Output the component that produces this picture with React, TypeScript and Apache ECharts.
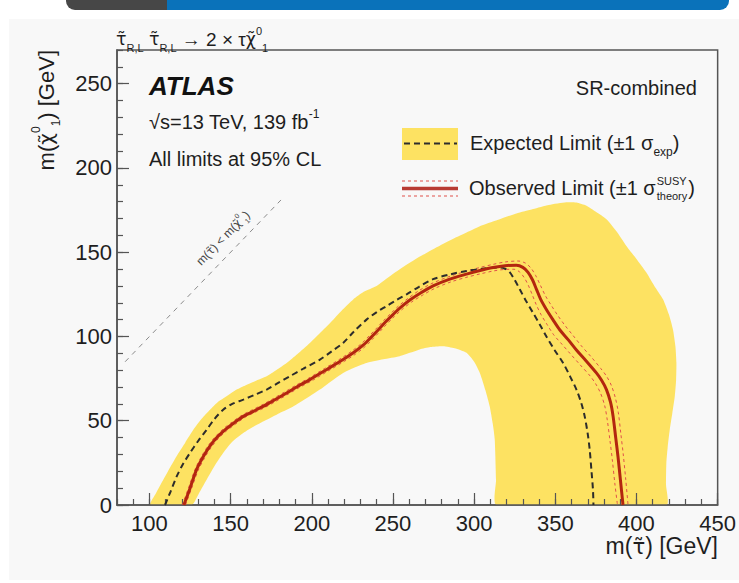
import React, { useEffect, useRef } from "react";
import * as echarts from "echarts";

// ---- data (GeV) ----
const xTickValues = [100, 150, 200, 250, 300, 350, 400, 450];
const yTickValues = [0, 50, 100, 150, 200, 250];

// yellow ±1σ expected band: outer boundary (left-bottom → over the top → right-bottom)
const bandOuter: number[][] = [
  [100.5, 0], [104, 7], [108.5, 15], [112.5, 22], [116.7, 29], [122, 37], [127, 44.6], [132, 51],
  [137.3, 56.5], [142, 61], [147.5, 64.5], [152, 67.5], [157.8, 70.4], [165, 73.5], [172.2, 76.4],
  [178, 80], [184.5, 84.3], [191, 89.5], [198.8, 96.2], [206, 103], [213.2, 110], [219, 116],
  [225.5, 122], [232, 126.5], [239.9, 130], [247, 135], [254.2, 139.9], [264, 146], [274.7, 151.8],
  [285, 157], [295.3, 161.7], [305, 166], [315.8, 169.6], [326, 173], [336.3, 175.6], [346, 178],
  [356.8, 179.6], [363, 179.5], [369.2, 177.6], [375, 174], [381.5, 169.6], [388, 162], [393.8, 153.7],
  [400, 146], [406.1, 137.9], [411, 130], [416.4, 122], [420, 113], [422.5, 104], [424, 94],
  [424.6, 84.3], [424.4, 74], [423.6, 64.5], [422, 54], [420.5, 44.6], [419.2, 34], [418.4, 24.8],
  [418.2, 12], [418.4, 0],
];
// inner boundary (right-bottom → under the arch → left-bottom)
const bandInner: number[][] = [
  [313.8, 0], [313.5, 15], [312.7, 38.7], [311.5, 48], [309.6, 58.5], [307, 68], [303.5, 78.4],
  [300, 85], [295.3, 90.3], [288, 93], [280.9, 94.2], [273, 93.7], [266.5, 92.3], [260.4, 90.3],
  [254.2, 88.3], [244, 86.5], [233.7, 84.3], [226, 81.5], [219.3, 78.4], [212, 73.5], [205, 68.5],
  [197, 63.5], [188.5, 58.5], [180, 54.5], [172.2, 50.6], [165, 47], [157.8, 42.7], [151, 37.5],
  [145.4, 30.8], [140, 23], [135.2, 15], [130.5, 7], [126, 0],
];

const expectedLimit: number[][] = [
  [109.6, 0], [113, 8], [116.7, 16.8], [120.5, 24], [124.9, 30.8], [130, 38], [135.2, 44.6], [140, 51],
  [145.4, 56.5], [151, 60], [157.8, 62.5], [165, 65.5], [172.2, 68.5], [179, 72.3], [186.5, 76.4],
  [195, 81], [205, 86.3], [212, 91], [219.3, 96.2], [226, 103], [233.7, 110], [240, 114.5], [246, 118],
  [252, 121.5], [258.4, 125], [266, 129.5], [274.7, 134], [285, 136.8], [295.3, 138.9], [305, 140.2],
  [315.8, 140.9], [319, 140.2], [322, 138], [325, 133.5], [328.1, 128], [332, 121], [336.3, 114],
  [340.5, 107], [344.5, 100], [349.5, 92], [354.8, 84.3], [359, 76.5], [363, 68.5], [366, 60.5],
  [368.1, 52.6], [370, 42], [371.2, 32.7], [372.3, 20], [373.2, 9], [373.5, 0],
];

const observedLimit: number[][] = [
  [121.2, 0], [125, 10], [129, 21], [133, 28.5], [137, 34.7], [141.5, 40], [146.5, 44.6], [152, 48.7],
  [157.8, 52.6], [164, 55.6], [170, 58.5], [177, 62.3], [184.5, 66.5], [191.5, 70.5], [198.8, 74.4],
  [209, 80.3], [219.3, 86.3], [226, 90.6], [231.6, 94.8], [236.5, 99.5], [241, 104], [245.5, 108.7],
  [250, 113], [254.2, 116.8], [260.4, 121.6], [267, 125.8], [274.7, 130], [285, 134], [295.3, 137],
  [303, 139], [311.7, 140.9], [319, 142], [326, 142.3], [330, 141], [333.2, 138], [336, 133.5],
  [338.4, 128], [341, 122], [344.5, 116], [348.5, 110], [352.7, 104], [358, 98], [363, 92], [369, 85.5],
  [375.3, 78.4], [378.5, 74], [381.5, 68.5], [384, 61], [385.6, 52.6], [387.2, 40], [388.6, 28.8],
  [390.2, 14], [391.7, 0],
];

const observedUp: number[][] = [
  [120.2, 0], [124, 10], [128, 21], [132, 28.7], [136, 35], [140.5, 40.5], [145.5, 45.2], [151, 49.3],
  [157, 53.3], [163, 56.3], [169, 59.2], [176, 63], [183.5, 67.2], [190.5, 71.2], [198, 75.2],
  [208, 81.1], [218.3, 87.2], [225, 91.6], [230.6, 95.8], [235.5, 100.5], [240, 105], [244.5, 109.7],
  [249, 114], [253.2, 117.9], [259.5, 122.8], [266, 127.2], [274, 131.5], [284.5, 135.5], [295, 138.7],
  [303, 140.8], [311.7, 142.8], [319, 144.2], [327, 144.8], [331.5, 143.6], [335, 140.6], [338, 136],
  [341, 130], [344, 124], [347.5, 118.5], [351.5, 112.5], [356, 106.5], [361, 100.5], [366, 94.5],
  [372, 88], [378, 81], [381.5, 76.5], [384.5, 71], [387, 63.5], [388.8, 55], [390.4, 42],
  [391.8, 30.5], [393.4, 15], [394.8, 0],
];

const observedDown: number[][] = [
  [122.2, 0], [126, 10], [130, 20.5], [134, 28], [138, 34.2], [142.5, 39.5], [147.5, 44], [153, 48],
  [158.8, 52], [165, 55], [171, 57.8], [178, 61.6], [185.5, 65.8], [192.5, 69.8], [199.8, 73.6],
  [210, 79.5], [220.3, 85.4], [227, 89.6], [232.6, 93.8], [237.5, 98.5], [242, 103], [246.5, 107.7],
  [251, 112], [255.2, 115.7], [261.4, 120.4], [268, 124.4], [275.7, 128.5], [286, 132.5], [296, 135.3],
  [304, 137.2], [312, 138.9], [319, 139.8], [324.5, 139.9], [328, 138.3], [330.8, 135], [333.3, 130.5],
  [335.7, 125], [338.2, 119], [341.2, 113], [345, 107], [349, 101], [354, 95.5], [359, 90], [365, 83.5],
  [371.5, 76.5], [374.8, 72], [377.8, 66.5], [380.4, 59], [382, 50.5], [383.7, 38], [385.1, 27],
  [386.7, 12.5], [388.3, 0],
];

const kinematicLine: number[][] = [[85, 85], [181, 181]];

const FONT = "'Liberation Sans', Arial, Helvetica, sans-serif";
const DJ = "'DejaVu Sans', sans-serif";
const YELLOW = "#fde262";
const OBS_RED = "#b3260f";
const THEORY_RED = "#e0504a";
const AXIS_GRAY = "#555";
const TEXT = "#1e1e1e";

function measure(text: string, size: number): number {
  const c = document.createElement("canvas").getContext("2d");
  if (!c) return text.length * size * 0.5;
  c.font = `${size}px ${FONT}`;
  return c.measureText(text).width;
}

function richSet(size: number, sub: number, fill: string) {
  return {
    s: { fontSize: sub, lineHeight: sub + 1, verticalAlign: "bottom", fill, fontFamily: FONT },
    p: { fontSize: sub, lineHeight: sub + 1, verticalAlign: "top", fill, fontFamily: FONT },
    t: { fontSize: size * 0.92, fontFamily: DJ, fill },
  };
}

export default function App() {
  const ref = useRef<HTMLDivElement>(null);

  useEffect(() => {
    if (!ref.current) return;
    const chart = echarts.init(ref.current, null, { renderer: "svg" });
    const bandPolygon = [...bandOuter, ...bandInner];

    const LEG = 20;
    const obsMain = "Observed Limit (±1 σ";
    const obsX = 469;
    const obsW = measure(obsMain, LEG);
    const supX = obsX + obsW + 1;

    const lineStyle = { color: AXIS_GRAY, width: 1.2 };

    chart.setOption({
      animation: false,
      textStyle: { fontFamily: FONT },
      grid: {
        left: 117, top: 50, right: 21, bottom: 78,
        show: true, borderColor: AXIS_GRAY, borderWidth: 1.5, backgroundColor: "transparent",
      },
      xAxis: [
        {
          type: "value", min: 80, max: 450, interval: 10, z: 3,
          axisLine: { show: true, lineStyle: { color: AXIS_GRAY, width: 1.5 } },
          axisTick: { show: true, inside: true, length: 6, lineStyle },
          axisLabel: { show: false }, splitLine: { show: false },
        },
        {
          type: "value", min: 80, max: 450, position: "bottom", z: 3,
          axisLine: { show: false },
          axisTick: { show: true, inside: true, length: 12, lineStyle, customValues: xTickValues },
          axisLabel: { show: true, customValues: xTickValues, fontSize: 22, color: TEXT, margin: 7, fontFamily: FONT },
          splitLine: { show: false },
        },
      ],
      yAxis: [
        {
          type: "value", min: 0, max: 270, interval: 10, z: 3,
          axisLine: { show: true, lineStyle: { color: AXIS_GRAY, width: 1.5 } },
          axisTick: { show: true, inside: true, length: 6, lineStyle },
          axisLabel: { show: false }, splitLine: { show: false },
        },
        {
          type: "value", min: 0, max: 270, position: "left", z: 3,
          axisLine: { show: false },
          axisTick: { show: true, inside: true, length: 12, lineStyle, customValues: yTickValues },
          axisLabel: { show: true, customValues: yTickValues, fontSize: 22, color: TEXT, margin: 5, fontFamily: FONT },
          splitLine: { show: false },
        },
      ],
      series: [
        {
          type: "custom", name: "band", xAxisIndex: 0, yAxisIndex: 0, z: 2, silent: true, clip: true,
          data: [0],
          renderItem: (_params: any, api: any) => ({
            type: "polygon",
            shape: { points: bandPolygon.map((p) => api.coord(p)), smooth: 0.2 },
            style: { fill: YELLOW, stroke: "none" },
          }),
        },
        {
          type: "line", name: "kinematic", xAxisIndex: 0, yAxisIndex: 0, z: 4, data: kinematicLine,
          symbol: "none", silent: true,
          lineStyle: { color: "#8a8a8a", width: 1, type: [5, 5] },
        },
        {
          type: "line", name: "theoryUp", xAxisIndex: 0, yAxisIndex: 0, z: 4, data: observedUp,
          symbol: "none", smooth: 0.3, silent: true,
          lineStyle: { color: THEORY_RED, width: 1, type: [3, 3] },
        },
        {
          type: "line", name: "theoryDown", xAxisIndex: 0, yAxisIndex: 0, z: 4, data: observedDown,
          symbol: "none", smooth: 0.3, silent: true,
          lineStyle: { color: THEORY_RED, width: 1, type: [3, 3] },
        },
        {
          type: "line", name: "expected", xAxisIndex: 0, yAxisIndex: 0, z: 5, data: expectedLimit,
          symbol: "none", smooth: 0.3, silent: true,
          lineStyle: { color: "#2c2c2c", width: 2, type: [6, 4] },
        },
        {
          type: "line", name: "observed", xAxisIndex: 0, yAxisIndex: 0, z: 6, data: observedLimit,
          symbol: "none", smooth: 0.3, silent: true,
          lineStyle: { color: OBS_RED, width: 3 },
        },
      ],
      graphic: [
        // process title
        {
          type: "text", x: 116, y: 39, silent: true,
          style: {
            text: "{t|τ̃}{s|R,L} {t|τ̃}{s|R,L} → 2 × τ{t|χ̃}{p|0}{s|1}",
            fontSize: 19, fontFamily: FONT, fill: TEXT, align: "left", verticalAlign: "middle", lineHeight: 28,
            rich: richSet(19, 11, TEXT),
          },
        },
        {
          type: "text", x: 149, y: 86, silent: true,
          style: { text: "ATLAS", font: `italic bold 26px ${FONT}`, fill: "#111", align: "left", verticalAlign: "middle" },
        },
        {
          type: "text", x: 149, y: 122, silent: true,
          style: {
            text: "√s=13 TeV, 139 fb{p|-1}",
            fontSize: 20, fontFamily: FONT, fill: TEXT, align: "left", verticalAlign: "middle", lineHeight: 28,
            rich: richSet(20, 12, TEXT),
          },
        },
        {
          type: "text", x: 149, y: 159, silent: true,
          style: { text: "All limits at 95% CL", fontSize: 20, fontFamily: FONT, fill: TEXT, align: "left", verticalAlign: "middle" },
        },
        {
          type: "text", x: 697, y: 88, silent: true,
          style: { text: "SR-combined", fontSize: 20, fontFamily: FONT, fill: TEXT, align: "right", verticalAlign: "middle" },
        },
        // legend: expected
        { type: "rect", silent: true, shape: { x: 402, y: 128, width: 56, height: 32 }, style: { fill: YELLOW } },
        {
          type: "line", silent: true, shape: { x1: 404, y1: 143.5, x2: 457, y2: 143.5 },
          style: { stroke: "#2c2c2c", lineWidth: 2, lineDash: [6, 4] },
        },
        {
          type: "text", x: 470, y: 143, silent: true,
          style: {
            text: "Expected Limit (±1 σ{s|exp})",
            fontSize: LEG, fontFamily: FONT, fill: TEXT, align: "left", verticalAlign: "middle", lineHeight: 30,
            rich: richSet(LEG, 12, TEXT),
          },
        },
        // legend: observed
        {
          type: "line", silent: true, shape: { x1: 402, y1: 181, x2: 458, y2: 181 },
          style: { stroke: THEORY_RED, lineWidth: 1, lineDash: [3, 3] },
        },
        {
          type: "line", silent: true, shape: { x1: 402, y1: 188.5, x2: 458, y2: 188.5 },
          style: { stroke: "#b83a32", lineWidth: 3.5 },
        },
        {
          type: "line", silent: true, shape: { x1: 402, y1: 196, x2: 458, y2: 196 },
          style: { stroke: THEORY_RED, lineWidth: 1, lineDash: [3, 3] },
        },
        {
          type: "text", x: obsX, y: 188, silent: true,
          style: { text: obsMain, fontSize: LEG, fontFamily: FONT, fill: TEXT, align: "left", verticalAlign: "middle" },
        },
        {
          type: "text", x: supX, y: 181, silent: true,
          style: { text: "SUSY", fontSize: 11, fontFamily: FONT, fill: TEXT, align: "left", verticalAlign: "middle" },
        },
        {
          type: "text", x: supX, y: 196, silent: true,
          style: { text: "theory", fontSize: 11, fontFamily: FONT, fill: TEXT, align: "left", verticalAlign: "middle" },
        },
        {
          type: "text", x: supX + measure("theory", 11) + 1, y: 188, silent: true,
          style: { text: ")", fontSize: LEG, fontFamily: FONT, fill: TEXT, align: "left", verticalAlign: "middle" },
        },
        // kinematic-limit label
        {
          type: "text", x: 223, y: 238, rotation: 0.8, silent: true,
          style: {
            text: "m({t|τ̃}) < m({t|χ̃}{p|0}{s|1})",
            fontSize: 12, fontFamily: FONT, fill: "#444", align: "center", verticalAlign: "middle", lineHeight: 18,
            rich: richSet(12, 7, "#444"),
          },
        },
        // axis titles
        {
          type: "text", x: 718, y: 546, silent: true,
          style: {
            text: "m({t|τ̃}) [GeV]", fontSize: 23, fontFamily: FONT, fill: TEXT, align: "right", verticalAlign: "middle",
            rich: richSet(23, 12, TEXT),
          },
        },
        {
          type: "text", x: 46, y: 50, rotation: Math.PI / 2, silent: true,
          style: {
            text: "m({t|χ̃}{p|0}{s|1}) [GeV]",
            fontSize: 22, fontFamily: FONT, fill: TEXT, align: "right", verticalAlign: "middle", lineHeight: 32,
            rich: richSet(22, 12, TEXT),
          },
        },
      ],
    });
    return () => chart.dispose();
  }, []);

  return (
    <div style={{ position: "absolute", left: 0, top: 0, width: 739, height: 583, background: "#ffffff", overflow: "hidden" }}>
      <div style={{ position: "absolute", left: 66, top: 0, width: 663, height: 10, borderRadius: "0 0 9px 9px", overflow: "hidden", display: "flex" }}>
        <div style={{ width: 101, height: "100%", background: "#474747" }} />
        <div style={{ flex: 1, height: "100%", background: "#0a72ba" }} />
      </div>
      <div style={{ position: "absolute", left: 9, top: 19, width: 730, height: 561, background: "#f8f8f8" }} />
      <div ref={ref} style={{ position: "absolute", left: 0, top: 0, width: 739, height: 583 }} />
    </div>
  );
}
